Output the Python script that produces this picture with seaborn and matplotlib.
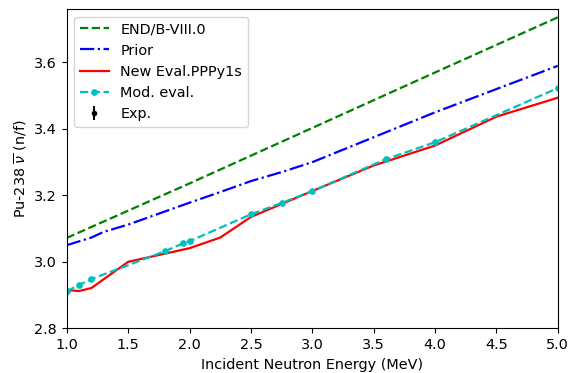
import matplotlib
matplotlib.use("Agg")
import matplotlib.pyplot as plt
import seaborn as sns
import numpy as np

# Data
endf_x = [1.0, 2.0, 3.0, 4.0, 5.0]
endf_y = [3.072, 3.236, 3.403, 3.570, 3.736]

prior_x = [1.0, 1.2, 1.3, 1.5, 2.0, 2.25, 2.5, 2.75, 3.0, 4.0, 5.0]
prior_y = [3.050, 3.073, 3.090, 3.112, 3.178, 3.210, 3.243, 3.270, 3.300, 3.450, 3.590]

new_x = [1.0, 1.1, 1.2, 1.5, 2.0, 2.25, 2.5, 3.0, 3.5, 4.0, 4.5, 5.0]
new_y = [2.915, 2.912, 2.921, 3.000, 3.041, 3.073, 3.135, 3.213, 3.290, 3.350, 3.437, 3.494]

mod_x = [1.0, 1.1, 1.2, 1.8, 1.95, 2.0, 2.5, 2.75, 3.0, 3.6, 4.0, 5.0]
mod_y = [2.912, 2.930, 2.948, 3.032, 3.056, 3.062, 3.143, 3.177, 3.213, 3.309, 3.360, 3.523]

exp_x = []
exp_y = []
exp_err = []

plt.rcParams['font.size'] = 10.4

fig = plt.figure(figsize=(5.71, 3.73), dpi=100)
ax = fig.add_axes([0.117, 0.12, 0.860, 0.855])

lw = 1.6
sns.lineplot(x=endf_x, y=endf_y, ax=ax, color='g', linestyle='--', lw=lw,
             label='END/B-VIII.0', sort=False)
sns.lineplot(x=prior_x, y=prior_y, ax=ax, color='b', linestyle='-.', lw=lw,
             label='Prior', sort=False)
sns.lineplot(x=new_x, y=new_y, ax=ax, color='r', linestyle='-', lw=lw,
             label='New Eval.PPPy1s', sort=False)
sns.lineplot(x=mod_x, y=mod_y, ax=ax, color='c', linestyle='--', lw=lw,
             marker='o', markersize=4, markeredgecolor='c',
             label='Mod. eval.', sort=False)
ax.errorbar(exp_x, exp_y, yerr=exp_err, fmt='o', color='k', ms=3,
            label='Exp.')

ax.set_xlim(1.0, 5.0)
ax.set_ylim(2.8, 3.76)
ax.set_xticks([1.0, 1.5, 2.0, 2.5, 3.0, 3.5, 4.0, 4.5, 5.0])
ax.set_yticks([2.8, 3.0, 3.2, 3.4, 3.6])
ax.set_xlabel('Incident Neutron Energy (MeV)')
ax.set_ylabel(r'Pu-238 $\overline{\nu}$ (n/f)')
ax.legend(loc='upper left')

fig.savefig('out.png', dpi=100)
